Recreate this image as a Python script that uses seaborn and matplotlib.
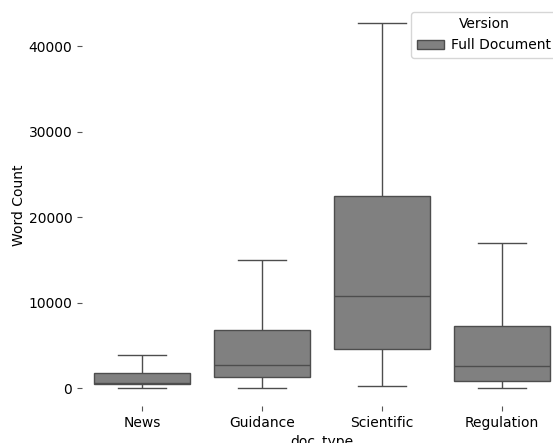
import matplotlib
matplotlib.use("Agg")
import matplotlib.pyplot as plt
import seaborn as sns
import pandas as pd

# five-number summaries: min, q1, median, q3, max
categories = ["News", "Guidance", "Scientific", "Regulation"]
news = [30, 470, 620, 1760, 3830]
guidance = [40, 1290, 2730, 6800, 15000]
scientific = [200, 4540, 10790, 22520, 42700]
regulation = [40, 780, 2580, 7270, 17000]
version = "Full Document"

values = {"News": news, "Guidance": guidance, "Scientific": scientific, "Regulation": regulation}
rows = []
for cat in categories:
    for v in values[cat]:
        rows.append({"doc_type": cat, "Word Count": v, "Version": version})
df = pd.DataFrame(rows)

plt.rcParams["font.family"] = ["DejaVu Sans"]
fig = plt.figure(figsize=(5.53, 4.43), dpi=100)
ax = fig.add_axes([82 / 553, (443 - 406) / 443, 480 / 553, 401 / 443])
sns.boxplot(data=df, x="doc_type", y="Word Count", hue="Version", order=categories,
            palette=["#808080"], whis=(0, 100), showfliers=False, ax=ax)
sns.despine(ax=ax, left=True, bottom=True)
ax.tick_params(colors="black", color="#555555")
ax.set_ylabel("Word Count", labelpad=1.5)
ax.legend(title="Version", loc="upper right", bbox_to_anchor=(1.004, 1.0),
          handletextpad=0.5, borderaxespad=0.5)
fig.savefig("out.png", dpi=100)
